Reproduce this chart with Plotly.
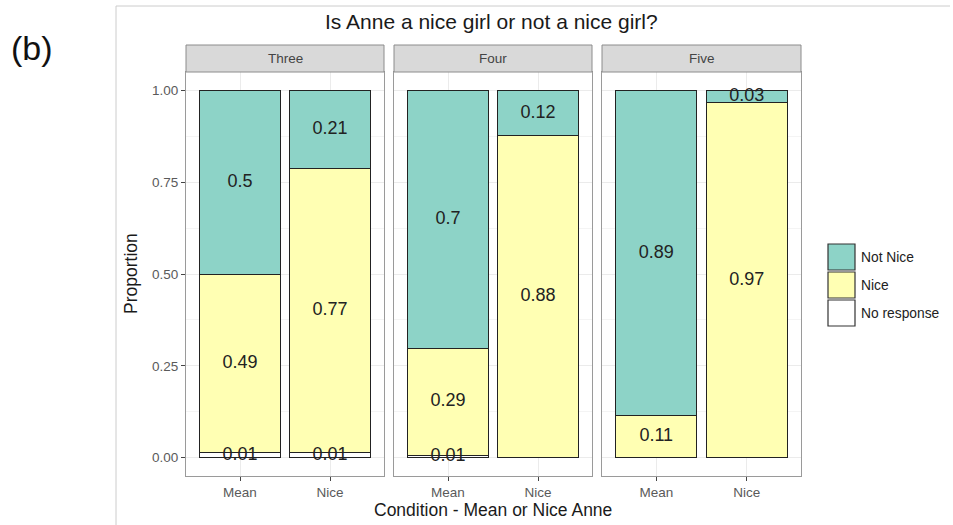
import plotly.graph_objects as go

# ---- data -------------------------------------------------------------
panels = ["Three", "Four", "Five"]
conditions = ["Mean", "Nice"]
responses = ["No response", "Nice", "Not Nice"]          # stacking order, bottom -> top

# proportion of each response, per panel, per condition (Mean, Nice)
no_response = {"Three": [0.014, 0.014], "Four": [0.006, 0.0], "Five": [0.0, 0.0]}
nice        = {"Three": [0.486, 0.772], "Four": [0.292, 0.876], "Five": [0.114, 0.966]}
not_nice    = {"Three": [0.500, 0.214], "Four": [0.702, 0.124], "Five": [0.886, 0.034]}

fills = {"No response": "#FFFFFF", "Nice": "#FFFFB3", "Not Nice": "#8DD3C7"}
series = {"No response": no_response, "Nice": nice, "Not Nice": not_nice}

W, H = 953, 525
FONT = "Liberation Sans, Arial, Helvetica, sans-serif"


def fx(p):
    return p / W


def fy(p):
    return 1 - p / H


# panel pixel extents
panel_x = [(186, 384), (394, 592), (602, 801)]
panel_top, panel_bottom = 72, 476
strip_top = 45

fig = go.Figure()

for i, panel in enumerate(panels):
    ax = "" if i == 0 else str(i + 1)
    xref, yref = "x" + ax, "y" + ax
    base = [0.0, 0.0]
    for resp in responses:
        vals = series[resp][panel]
        fig.add_trace(go.Bar(
            x=conditions, y=vals, width=0.9, name=resp,
            marker=dict(color=fills[resp], line=dict(color="#222222", width=1)),
            xaxis=xref, yaxis=yref, showlegend=False, hoverinfo="skip",
        ))
        # value labels at the middle of each segment
        lx, ly, lt = [], [], []
        for j, v in enumerate(vals):
            if v > 0:
                lx.append(conditions[j])
                ly.append(base[j] + v / 2)
                lt.append(f"{round(v, 2):g}")
            base[j] += v
        fig.add_trace(go.Scatter(
            x=lx, y=ly, text=lt, mode="text",
            textfont=dict(family=FONT, size=18, color="#222222"),
            xaxis=xref, yaxis=yref, showlegend=False, hoverinfo="skip",
        ))

    x0, x1 = panel_x[i]
    common_axis = dict(
        showline=True, mirror=True, linecolor="#9a9a9a", linewidth=1,
        ticks="outside", ticklen=4, tickcolor="#444444", tickwidth=1,
        tickfont=dict(family=FONT, size=13.5, color="#5a5a5a"),
        gridcolor="#EBEBEB", gridwidth=1, zeroline=False,
    )
    fig.update_layout(**{
        "xaxis" + ax: dict(
            domain=[fx(x0), fx(x1)], range=[-0.6, 1.6], type="category",
            categoryorder="array", categoryarray=conditions,
            anchor=yref, **common_axis,
        ),
        "yaxis" + ax: dict(
            domain=[fy(panel_bottom), fy(panel_top)], range=[-0.05, 1.05],
            tickvals=[0, 0.25, 0.5, 0.75, 1.0], tickformat=".2f",
            showticklabels=(i == 0), ticks="outside" if i == 0 else "",
            minor=dict(tickvals=[0.125, 0.375, 0.625, 0.875], showgrid=True,
                       gridcolor="#F4F4F4", gridwidth=1, ticks=""),
            anchor=xref,
            **{k: v for k, v in common_axis.items() if k != "ticks"},
        ),
    })

    # facet strip
    fig.add_shape(type="rect", xref="paper", yref="paper",
                  x0=fx(x0), x1=fx(x1), y0=fy(panel_top), y1=fy(strip_top),
                  fillcolor="#D9D9D9", line=dict(color="#8c8c8c", width=1), layer="above")
    fig.add_annotation(text=panel, xref="paper", yref="paper",
                       x=fx((x0 + x1) / 2), y=fy((strip_top + panel_top) / 2),
                       showarrow=False, font=dict(family=FONT, size=13.5, color="#444444"),
                       xanchor="center", yanchor="middle")

# legend keys
key_x0, key_x1 = 828, 855
key_top, key_h = 243, 28
for k, resp in enumerate(["Not Nice", "Nice", "No response"]):
    t = key_top + k * key_h
    fig.add_shape(type="rect", xref="paper", yref="paper",
                  x0=fx(key_x0), x1=fx(key_x1), y0=fy(t + key_h - 1), y1=fy(t + 1),
                  fillcolor=fills[resp], line=dict(color="#333333", width=1.2))
    fig.add_annotation(text=resp, xref="paper", yref="paper",
                       x=fx(859), y=fy(t + key_h / 2), showarrow=False,
                       xanchor="left", yanchor="middle",
                       font=dict(family=FONT, size=13.8, color="#222222"))

# outer frame lines
fig.add_shape(type="line", xref="paper", yref="paper",
              x0=fx(116), x1=fx(116), y0=0, y1=fy(6), line=dict(color="#cccccc", width=1))
fig.add_shape(type="line", xref="paper", yref="paper",
              x0=fx(116), x1=fx(950), y0=fy(6), y1=fy(6), line=dict(color="#cccccc", width=1))

# titles
fig.add_annotation(text="Is Anne a nice girl or not a nice girl?", xref="paper", yref="paper",
                   x=fx(491), y=fy(21), showarrow=False, xanchor="center", yanchor="middle",
                   font=dict(family=FONT, size=21, color="#1a1a1a"))
fig.add_annotation(text="(b)", xref="paper", yref="paper",
                   x=fx(9), y=fy(48), showarrow=False, xanchor="left", yanchor="middle",
                   font=dict(family=FONT, size=34, color="#111111"))
fig.add_annotation(text="Proportion", xref="paper", yref="paper",
                   x=fx(131), y=fy(274), showarrow=False, textangle=-90,
                   xanchor="center", yanchor="middle",
                   font=dict(family=FONT, size=17.5, color="#1a1a1a"))
fig.add_annotation(text="Condition - Mean or Nice Anne", xref="paper", yref="paper",
                   x=fx(493), y=fy(510), showarrow=False, xanchor="center", yanchor="middle",
                   font=dict(family=FONT, size=17.5, color="#1a1a1a"))

fig.update_layout(
    width=W, height=H, margin=dict(l=0, r=0, t=0, b=0),
    barmode="stack", bargap=0.1,
    paper_bgcolor="white", plot_bgcolor="white",
    showlegend=False,
)

fig.write_html("out.html")
